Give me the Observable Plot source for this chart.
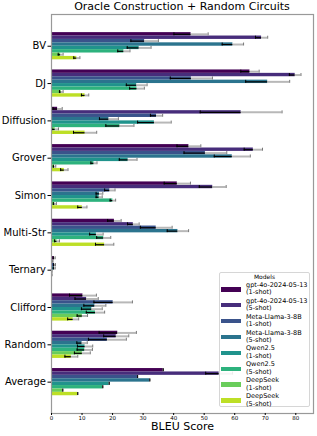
<!DOCTYPE html>
<html><head><meta charset="utf-8">
<script src="https://cdn.jsdelivr.net/npm/d3@7"></script>
<script src="https://cdn.jsdelivr.net/npm/@observablehq/plot@0.6"></script>
<style>
body{margin:0;background:#fff;font-family:"DejaVu Sans",sans-serif;color:#000}
#wrap{position:relative;width:317px;height:436px;overflow:hidden}
#title{position:absolute;left:51px;width:262px;top:0;text-align:center;font-size:11px;line-height:13px;white-space:nowrap}
#legend{position:absolute;left:219px;top:272px;width:91px;height:135px;border:1px solid #d6d6d6;border-radius:2px;background:rgba(255,255,255,0.85);box-sizing:border-box}
.lgt{position:absolute;font-size:6px;line-height:7px;white-space:nowrap}
.patch{position:absolute;width:19.5px;height:4.5px}
.ltext{position:absolute;font-size:6.5px;line-height:7.5px;white-space:nowrap}
</style></head>
<body><div id="wrap"><div id="title">Oracle Construction + Random Circuits</div></div>
<script>
const categories = ["BV","DJ","Diffusion","Grover","Simon","Multi-Str","Ternary","Clifford","Random","Average"];
const modelNames = ["gpt-4o-2024-05-13","gpt-4o-2024-05-13","Meta-Llama-3-8B","Meta-Llama-3-8B","Qwen2.5","Qwen2.5","DeepSeek","DeepSeek"];
const shots = ["(1-shot)","(5-shot)","(1-shot)","(5-shot)","(1-shot)","(5-shot)","(1-shot)","(5-shot)"];
const xTicks = [0,10,20,30,40,50,60,70,80];

// values per model, in category order
const gpt1 = [45.7, 65.0, 2.0, 45.0, 41.2, 20.6, 0.9, 10.3, 21.7, 36.6];
const gpt5 = [68.8, 79.8, 62.1, 66.1, 52.8, 26.8, 0.3, 11.5, 21.2, 54.9];
const llama1 = [30.5, 45.8, 34.4, 50.4, 19.1, 34.3, 1.0, 20.2, 18.3, 28.2];
const llama5 = [59.4, 70.8, 18.8, 59.2, 15.7, 41.4, 0.9, 14.2, 10.0, 32.2];
const qwen1 = [28.7, 27.9, 33.7, 25.1, 15.6, 14.7, 0.1, 13.2, 11.0, 18.9];
const qwen5 = [23.7, 28.0, 22.4, 13.9, 20.1, 17.1, 0.1, 14.4, 10.9, 16.8];
const ds1 = [3.0, 3.2, 1.2, 1.0, 1.1, 1.8, 0.0, 10.1, 10.1, 3.7];
const ds5 = [8.3, 11.0, 11.0, 4.2, 10.1, 17.4, 0.0, 7.1, 6.5, 8.6];

// error (std) per model, in category order
const gpt1Err = [5.6, 3.0, 1.5, 3.9, 4.3, 2.2, 0.3, 4.4, 6.1, 0];
const gpt5Err = [2.0, 1.9, 13.4, 3.0, 4.4, 1.9, 0.2, 3.8, 4.1, 4.4];
const llama1Err = [4.5, 6.9, 2.0, 7.0, 1.7, 5.2, 0.3, 6.3, 6.2, 0];
const llama5Err = [3.5, 7.2, 3.1, 5.9, 1.1, 3.5, 0.3, 3.6, 1.7, 0];
const qwen1Err = [3.9, 3.4, 5.5, 2.9, 1.0, 2.2, 0.1, 3.4, 2.5, 0];
const qwen5Err = [2.0, 2.4, 4.6, 1.0, 0.9, 2.3, 0.1, 3.0, 2.5, 0];
const ds1Err = [0.8, 0.6, 1.1, 0.4, 0.5, 0.8, 0.0, 1.7, 2.6, 0];
const ds5Err = [1.0, 1.2, 3.8, 1.2, 1.5, 3.0, 0.0, 1.8, 2.1, 0];

const series = [gpt1,gpt5,llama1,llama5,qwen1,qwen5,ds1,ds5];
const errors = [gpt1Err,gpt5Err,llama1Err,llama5Err,qwen1Err,qwen5Err,ds1Err,ds5Err];
const colors = d3.range(8).map(i => d3.interpolateViridis(i * 0.9 / 7));

const BAR = 0.0911, GROUP = BAR * 8, CAP = 0.04;
const rows = [];
categories.forEach((c, i) => series.forEach((vals, j) => {
  const y1 = i - GROUP / 2 + j * BAR;
  rows.push({cat: i, model: j, v: vals[i], e: errors[j][i], y1, y2: y1 + BAR, yc: y1 + BAR / 2});
}));

const chart = Plot.plot({
  width: 317, height: 436,
  marginTop: 14, marginBottom: 23, marginLeft: 51, marginRight: 4,
  style: {fontFamily: "DejaVu Sans", color: "#000", background: "transparent"},
  x: {domain: [0, 85.8]},
  y: {domain: [9.84, -0.85]},
  color: {type: "ordinal", domain: d3.range(8), range: colors},
  marks: [
    Plot.rectX(rows, {x1: 0, x2: "v", y1: "y1", y2: "y2", fill: "model"}),
    Plot.ruleY(rows, {y: "yc", x1: "v", x2: d => d.v + d.e, stroke: "#b8b8b8", strokeWidth: 2}),
    Plot.ruleX(rows, {x: d => d.v + d.e, y1: d => d.yc - CAP, y2: d => d.yc + CAP, stroke: "#777", strokeWidth: 1}),
    Plot.ruleY(rows, {y: "yc", x1: d => d.v - d.e, x2: "v", stroke: "#000", strokeWidth: 1.2}),
    Plot.ruleX(rows, {x: d => d.v - d.e, y1: d => d.yc - CAP, y2: d => d.yc + CAP, stroke: "#000", strokeWidth: 1}),
    Plot.frame({stroke: "#999", strokeWidth: 1.2}),
    Plot.axisY({ticks: categories.map((c, i) => i), tickFormat: i => categories[i], fontSize: 10, tickSize: 3.5, tickPadding: 2, label: null}),
    Plot.axisX({ticks: xTicks, tickFormat: d => String(d), fontSize: 5.5, tickSize: 2, tickPadding: 0.5, label: null}),
    Plot.text(["BLEU Score"], {text: d => d, frameAnchor: "bottom", dy: 16, fontSize: 11})
  ]
});
const wrap = document.getElementById("wrap");
chart.style.position = "absolute"; chart.style.left = "0"; chart.style.top = "0";
wrap.insertBefore(chart, wrap.firstChild);

const legend = document.createElement("div"); legend.id = "legend"; wrap.appendChild(legend);
const lt = document.createElement("div"); lt.className = "lgt"; lt.textContent = "Models";
lt.style.left = "219px"; lt.style.width = "91px"; lt.style.textAlign = "center"; lt.style.top = "272.5px";
wrap.appendChild(lt);
modelNames.forEach((name, i) => {
  const cy = 289.3 + 15.9 * i;
  const p = document.createElement("div"); p.className = "patch";
  p.style.left = "221px"; p.style.top = (cy - 2.25) + "px"; p.style.background = colors[i];
  wrap.appendChild(p);
  const t = document.createElement("div"); t.className = "ltext";
  t.style.left = "246px"; t.style.top = (cy - 7.5) + "px";
  t.innerHTML = name + "<br>" + shots[i];
  wrap.appendChild(t);
});
</script></body></html>
